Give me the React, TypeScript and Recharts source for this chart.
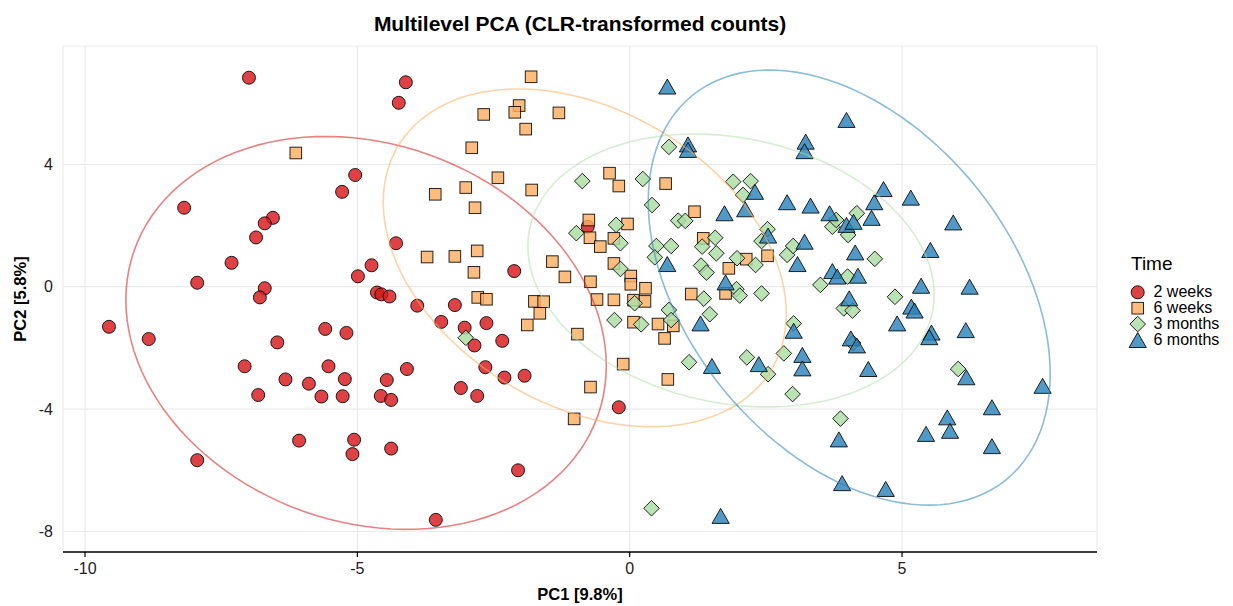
import React from 'react';
import { ScatterChart, Scatter, XAxis, YAxis, CartesianGrid } from 'recharts';

const FONT = '"Liberation Sans", Arial, Helvetica, sans-serif';

// ---- axis settings ----
const X_TICKS = [-10, -5, 0, 5];
const Y_TICKS = [-8, -4, 0, 4];
const X_DOMAIN: [number, number] = [-10.404, 8.579];
const Y_DOMAIN: [number, number] = [-8.67, 7.866];

// ---- series (PC1, PC2) ----
const twoWeeks: [number, number][] = [
  [-6.99, 6.83], [-4.11, 6.68], [-4.24, 6.01], [-8.18, 2.58], [-5.04, 3.65], [-5.28, 3.10],
  [-6.55, 2.25], [-6.70, 2.07], [-6.86, 1.61], [-7.31, 0.78], [-7.94, 0.13], [-6.70, -0.05],
  [-6.79, -0.35], [-9.56, -1.31], [-8.83, -1.71], [-4.29, 1.42], [-4.74, 0.70], [-4.99, 0.34],
  [-4.64, -0.19], [-4.56, -0.25], [-4.41, -0.32], [-3.90, -0.62], [-5.59, -1.38], [-5.20, -1.51],
  [-6.47, -1.82], [-7.07, -2.60], [-6.82, -3.54], [-6.32, -3.03], [-5.89, -3.17], [-5.66, -3.59],
  [-5.53, -2.60], [-5.27, -3.58], [-5.23, -3.02], [-4.46, -3.05], [-4.57, -3.57], [-4.38, -3.70],
  [-4.09, -2.69], [-6.07, -5.03], [-5.06, -5.00], [-5.09, -5.47], [-7.94, -5.67], [-4.38, -5.29],
  [-3.56, -7.62], [-2.05, -6.00], [-3.46, -1.15], [-3.03, -1.34], [-3.21, -0.60], [-2.63, -1.19],
  [-2.12, 0.51], [-3.10, -3.31], [-2.80, -3.57], [-2.65, -2.63], [-2.30, -2.97], [-2.34, -1.77],
  [-1.93, -2.91], [-0.20, -3.94], [-2.85, -1.92], [-0.77, 1.96],
];

const sixWeeks: [number, number][] = [
  [-1.81, 6.86], [-2.03, 5.92], [-2.11, 5.70], [-2.68, 5.63], [-1.30, 5.68], [-1.91, 5.15],
  [-2.90, 4.54], [-6.13, 4.37], [-2.42, 3.56], [-3.01, 3.24], [-3.57, 3.02], [-1.80, 3.16],
  [-2.84, 2.58], [-0.37, 3.71], [-0.20, 3.29], [0.66, 3.37], [1.19, 2.45], [-0.75, 2.18],
  [-0.73, 1.60], [-0.04, 2.05], [-0.54, 1.31], [-0.29, 1.58], [1.35, 1.58], [-2.80, 1.17],
  [-3.72, 0.97], [-3.21, 0.99], [-2.86, 0.47], [-1.42, 0.82], [-1.19, 0.32], [-0.72, 0.16],
  [-0.29, 0.76], [0.02, 0.35], [0.02, 0.08], [0.29, -0.05], [1.82, 0.60], [2.14, 0.90],
  [2.53, 1.01], [1.13, -0.24], [1.76, -0.22], [-2.79, -0.35], [-2.63, -0.41], [-1.75, -0.48],
  [-1.58, -0.49], [-1.65, -0.87], [-1.88, -1.25], [-0.96, -1.55], [-0.60, -0.42], [-0.29, -0.43],
  [0.07, -0.44], [0.28, -0.48], [0.07, -1.16], [0.52, -1.22], [0.80, -1.28], [0.64, -1.69],
  [-0.12, -2.53], [0.70, -3.03], [-0.72, -3.28], [-1.02, -4.32],
];

const threeMonths: [number, number][] = [
  [-0.87, 3.45], [-0.98, 1.75], [0.72, 4.57], [0.24, 3.52], [1.90, 3.43], [2.22, 3.45],
  [2.08, 3.00], [0.41, 2.67], [0.89, 2.16], [1.02, 2.15], [-0.25, 2.02], [-0.17, 1.42],
  [0.49, 1.33], [0.76, 1.33], [0.46, 0.96], [1.33, 1.31], [1.57, 1.60], [1.59, 1.09],
  [1.31, 0.69], [1.41, 0.46], [1.97, 0.93], [2.31, 0.71], [2.53, 1.88], [2.42, 1.49],
  [2.89, 1.04], [3.00, 1.33], [3.72, 1.96], [3.79, 2.18], [4.01, 1.69], [-0.17, 0.58],
  [1.96, -0.08], [2.02, -0.29], [2.42, -0.22], [3.50, 0.06], [4.00, 0.33], [0.72, -0.76],
  [1.36, -0.39], [-3.01, -1.67], [-0.28, -1.09], [0.09, -0.54], [0.21, -1.23], [0.76, -1.09],
  [1.47, -0.90], [1.09, -2.47], [2.15, -2.31], [2.54, -2.86], [2.83, -2.18], [3.01, -1.20],
  [2.99, -3.51], [3.87, -4.31], [0.40, -7.24], [3.93, -0.71], [4.09, -0.78], [4.10, -1.84],
  [4.17, 2.40], [4.50, 0.91], [4.87, -0.33], [6.03, -2.69],
];

const sixMonths: [number, number][] = [
  [0.69, 6.54], [1.07, 4.65], [1.07, 4.47], [3.98, 5.45], [3.23, 4.74], [3.21, 4.43],
  [2.30, 3.10], [2.12, 2.53], [1.74, 2.40], [2.89, 2.76], [3.32, 2.65], [3.67, 2.40],
  [3.98, 2.02], [2.54, 1.67], [3.21, 1.47], [3.08, 0.74], [0.69, 0.74], [3.72, 0.51],
  [3.81, 0.33], [1.76, 0.14], [4.03, -0.38], [4.66, 3.19], [5.16, 2.91], [4.49, 2.76],
  [4.44, 2.25], [4.11, 2.12], [5.94, 2.10], [5.52, 1.20], [4.14, 1.12], [4.19, 0.36],
  [5.35, 0.03], [6.24, 0.00], [5.17, -0.65], [5.23, -0.78], [4.91, -1.20], [5.54, -1.50],
  [5.50, -1.65], [6.17, -1.42], [4.06, -1.69], [4.17, -1.92], [4.38, -2.69], [6.18, -2.96],
  [7.58, -3.24], [6.65, -3.94], [5.83, -4.27], [5.88, -4.71], [5.44, -4.81], [6.65, -5.21],
  [3.90, -6.42], [4.70, -6.61], [1.30, -1.20], [1.51, -2.59], [2.37, -2.53], [3.01, -1.44],
  [3.17, -2.23], [3.17, -2.67], [3.84, -4.99], [1.67, -7.49],
];

// 95% ellipse parameters per group: centre, half extents, correlation
const ellipseCenters: [number, number][] = [[-4.84, -1.51], [-0.825, 0.943], [1.86, 0.53], [4.03, -0.03]];
const ellipseExtents: [number, number][] = [[4.41, 6.42], [3.70, 5.52], [3.73, 4.46], [3.69, 7.11]];
const ellipseRho: number[] = [-0.168, -0.33, -0.178, -0.396];

const groupLabels = ['2 weeks', '6 weeks', '3 months', '6 months'];
const groupColors = ['#d7191c', '#fdae61', '#abdda4', '#2b83ba'];
const groupShapes = ['circle', 'square', 'diamond', 'triangle'];
const groupData = [twoWeeks, sixWeeks, threeMonths, sixMonths];

const toRows = (arr: [number, number][]) => arr.map(([x, y]) => ({ x, y }));

const ellipseRows = (i: number) => {
  const [cx, cy] = ellipseCenters[i];
  const [rx, ry] = ellipseExtents[i];
  const rho = ellipseRho[i];
  const s = Math.sqrt(1 - rho * rho);
  const out: { x: number; y: number }[] = [];
  for (let k = 0; k <= 120; k++) {
    const t = (k / 120) * Math.PI * 2;
    out.push({ x: cx + rx * Math.cos(t), y: cy + ry * (rho * Math.cos(t) + s * Math.sin(t)) });
  }
  return out;
};

function Marker({ kind, cx, cy, color }: { kind: string; cx: number; cy: number; color: string }) {
  const common = { fill: color, fillOpacity: 0.82, stroke: '#000', strokeOpacity: 0.85, strokeWidth: 1 };
  if (kind === 'circle') return <circle cx={cx} cy={cy} r={6.5} {...common} />;
  if (kind === 'square') return <rect x={cx - 5.8} y={cy - 5.8} width={11.6} height={11.6} {...common} />;
  if (kind === 'diamond') {
    const d = 7.8;
    return <polygon points={`${cx},${cy - d} ${cx + d},${cy} ${cx},${cy + d} ${cx - d},${cy}`} {...common} />;
  }
  const w = 8.6;
  return <polygon points={`${cx},${cy - 7.5} ${cx + w},${cy + 7.5} ${cx - w},${cy + 7.5}`} {...common} />;
}

const Empty = () => <g />;

export default function App() {
  return (
    <div style={{ position: 'absolute', left: 0, top: 0, width: 1233, height: 606, background: '#fff' }}>
      <ScatterChart width={1233} height={606} margin={{ top: 46, right: 136, bottom: 0, left: 0 }}>
        <CartesianGrid stroke="#EBEBEB" strokeWidth={1.2} />
        <XAxis
          type="number"
          dataKey="x"
          domain={X_DOMAIN}
          ticks={X_TICKS}
          allowDataOverflow
          interval={0}
          height={54}
          axisLine={{ stroke: '#000', strokeWidth: 1.6 }}
          tickLine={{ stroke: '#000', strokeWidth: 1.2 }}
          tickSize={5}
          tickMargin={6}
          tick={{ fill: '#222', fontSize: 16, fontFamily: FONT }}
        />
        <YAxis
          type="number"
          dataKey="y"
          domain={Y_DOMAIN}
          ticks={Y_TICKS}
          allowDataOverflow
          interval={0}
          width={63}
          axisLine={false}
          tickLine={false}
          tickSize={0}
          tickMargin={10}
          tick={{ fill: '#222', fontSize: 16, fontFamily: FONT }}
        />
        {groupData.map((arr, i) => (
          <Scatter
            key={groupLabels[i]}
            name={groupLabels[i]}
            data={toRows(arr)}
            isAnimationActive={false}
            shape={(p: any) => <Marker kind={groupShapes[i]} cx={p.cx} cy={p.cy} color={groupColors[i]} />}
          />
        ))}
        {groupData.map((_, i) => (
          <Scatter
            key={'ell' + i}
            data={ellipseRows(i)}
            isAnimationActive={false}
            line={{ stroke: groupColors[i], strokeWidth: 1.6, strokeOpacity: i === 2 ? 0.5 : 0.55 }}
            lineType="joint"
            shape={Empty}
          />
        ))}
      </ScatterChart>
      <svg
        width={1233}
        height={606}
        style={{ position: 'absolute', left: 0, top: 0, pointerEvents: 'none' }}
        fontFamily={FONT}
      >
        <text x={580} y={31} textAnchor="middle" fontSize={21} fontWeight="bold" fill="#000">
          Multilevel PCA (CLR-transformed counts)
        </text>
        <text x={580} y={600} textAnchor="middle" fontSize={16.5} fontWeight="bold" fill="#000">
          PC1 [9.8%]
        </text>
        <text
          x={0}
          y={0}
          transform="translate(26,299) rotate(-90)"
          textAnchor="middle"
          fontSize={16.5}
          fontWeight="bold"
          fill="#000"
        >
          PC2 [5.8%]
        </text>
        <text x={1131} y={270} fontSize={19} fill="#000">Time</text>
        {groupLabels.map((lab, i) => {
          const cy = 292.3 + i * 15.9;
          return (
            <g key={lab}>
              <Marker kind={groupShapes[i]} cx={1137.7} cy={cy} color={groupColors[i]} />
              <text x={1153.5} y={cy + 5} fontSize={16} fill="#000">{lab}</text>
            </g>
          );
        })}
      </svg>
    </div>
  );
}
